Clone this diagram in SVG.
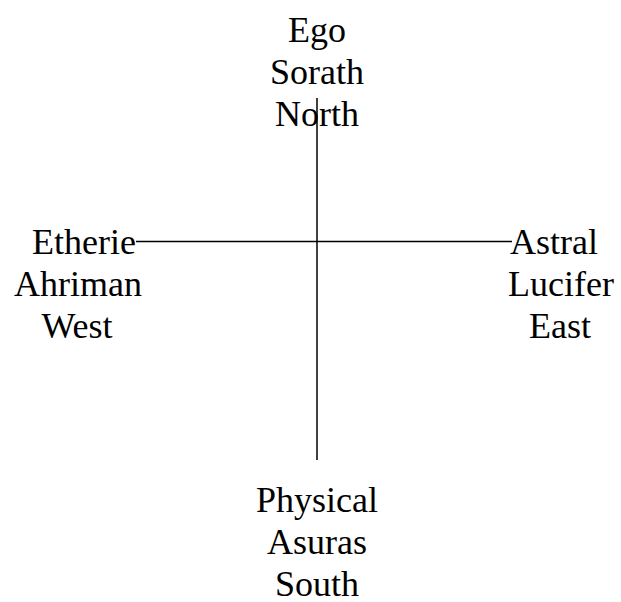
<svg xmlns="http://www.w3.org/2000/svg" width="621" height="602" viewBox="0 0 621 602">
<style>
.t{font-family:"Liberation Serif","Times New Roman",serif;font-size:36px;fill:#000;text-anchor:middle}
.c{stroke:#000;stroke-width:1.5;fill:none}
</style>
<rect width="621" height="602" fill="#fff"/>
<g id="connectors">
<line class="c" x1="317" y1="98" x2="317" y2="460"/>
<line class="c" x1="136" y1="241.5" x2="512" y2="241.5"/>
</g>
<g id="north">
<text class="t" x="317" y="41.5">Ego</text>
<text class="t" x="317" y="83.5">Sorath</text>
<text class="t" x="317" y="125.5">North</text>
</g>
<g id="west">
<text class="t" x="84" y="254">Etherie</text>
<text class="t" x="78" y="296">Ahriman</text>
<text class="t" x="77" y="338">West</text>
</g>
<g id="east">
<text class="t" x="554" y="254">Astral</text>
<text class="t" x="561" y="296">Lucifer</text>
<text class="t" x="560" y="338">East</text>
</g>
<g id="south">
<text class="t" x="317" y="511.5">Physical</text>
<text class="t" x="317" y="553.5">Asuras</text>
<text class="t" x="317" y="595.5">South</text>
</g>
</svg>
